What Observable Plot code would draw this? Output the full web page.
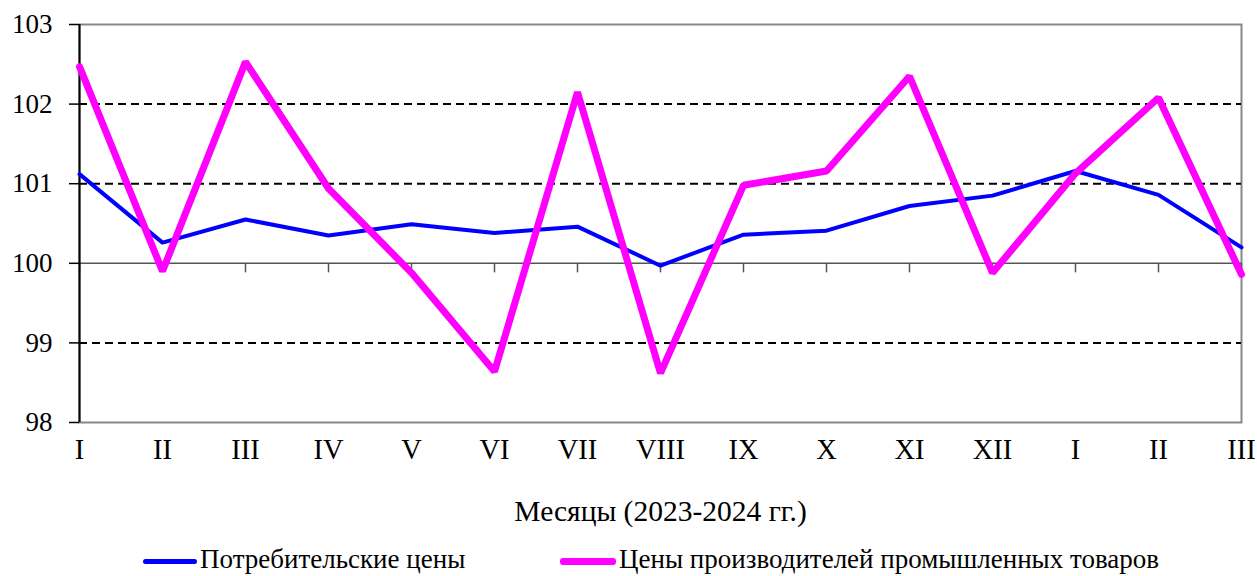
<!DOCTYPE html>
<html><head><meta charset="utf-8">
<script src="https://cdn.jsdelivr.net/npm/d3@7"></script>
<script src="https://cdn.jsdelivr.net/npm/@observablehq/plot@0.6"></script>
<style>
body{margin:0;background:#fff;font-family:"Liberation Serif","Times New Roman",serif;}
#chart svg{display:block;}
#legend{position:relative;height:36px;width:1257px;}
#legend .sw{position:absolute;height:5px;border-radius:3px;}
#legend .lb{position:absolute;font-size:27px;line-height:27px;white-space:nowrap;color:#000;}
</style></head><body><div id="chart"></div><div id="legend"></div>
<script>
const months = ["I","II","III","IV","V","VI","VII","VIII","IX","X","XI","XII","I","II","III"];
const consumer = [101.12,100.26,100.55,100.35,100.49,100.38,100.46,99.97,100.36,100.41,100.72,100.85,101.16,100.86,100.2];
const producer = [102.47,99.9,102.53,100.94,99.88,98.64,102.15,98.62,100.98,101.16,102.35,99.88,101.13,102.08,99.86];
const yTicks = [98,99,100,101,102,103];
const dashedGrid = [99,101,102];
const baseLine = [100];
const seriesNames = ["Потребительские цены","Цены производителей промышленных товаров"];
const seriesColors = ["#0000ff","#ff00ff"];
const axisTitle = "Месяцы (2023-2024 гг.)";

const FONT = '"Liberation Serif","Times New Roman",serif';
const idx = months.map((_, i) => i);
const rows = [];
idx.forEach(i => rows.push({i, v: consumer[i], s: seriesNames[0]}));
idx.forEach(i => rows.push({i, v: producer[i], s: seriesNames[1]}));

const chart = Plot.plot({
  width: 1257, height: 540,
  marginTop: 24, marginBottom: 118, marginLeft: 79, marginRight: 16,
  style: {fontFamily: FONT, fontSize: "27px", color: "#000", background: "#fff"},
  x: {domain: [0, months.length - 1]},
  y: {domain: [98, 103]},
  marks: [
    Plot.frame({stroke: "#878787", strokeWidth: 2}),
    Plot.ruleY(dashedGrid, {stroke: "#000", strokeWidth: 2, strokeDasharray: "8,5"}),
    Plot.ruleY(baseLine, {stroke: "#555", strokeWidth: 1.5}),
    Plot.ruleX(idx, {x: d => d, y1: 100, y2: 99.88, stroke: "#555", strokeWidth: 1.5}),
    Plot.ruleX([0], {stroke: "#000", strokeWidth: 2}),
    Plot.axisY(yTicks, {tickSize: 10, tickPadding: 17, fontSize: 27, fontFamily: FONT, label: null, strokeWidth: 1.5, tickFormat: d => String(d)}),
    Plot.axisX(idx, {tickSize: 0, tickPadding: 16, fontSize: 28.5, fontFamily: FONT, label: null, tickFormat: i => months[i]}),
    Plot.text([axisTitle], {frameAnchor: "bottom", lineAnchor: "middle", dy: 89, fontSize: 29.5, fontFamily: FONT}),
    Plot.line(rows.filter(r => r.s === seriesNames[0]), {x: "i", y: "v", stroke: seriesColors[0], strokeWidth: 4, strokeLinejoin: "round"}),
    Plot.line(rows.filter(r => r.s === seriesNames[1]), {x: "i", y: "v", stroke: seriesColors[1], strokeWidth: 7, strokeLinejoin: "miter"})
  ]
});
document.getElementById("chart").appendChild(chart);

const legend = document.getElementById("legend");
const items = [{sw: [143, 54], tx: 200}, {sw: [560, 56], tx: 619}];
seriesNames.forEach((n, k) => {
  const sw = document.createElement("div");
  sw.className = "sw";
  sw.style.left = items[k].sw[0] + "px";
  sw.style.width = items[k].sw[1] + "px";
  sw.style.top = (k === 0 ? 18.5 : 17.5) + "px";
  sw.style.height = (k === 0 ? 5 : 7) + "px";
  sw.style.background = seriesColors[k];
  legend.appendChild(sw);
  const lb = document.createElement("div");
  lb.className = "lb";
  lb.style.left = items[k].tx + "px";
  lb.style.top = "6px";
  lb.textContent = n;
  legend.appendChild(lb);
});
</script>
</body></html>
